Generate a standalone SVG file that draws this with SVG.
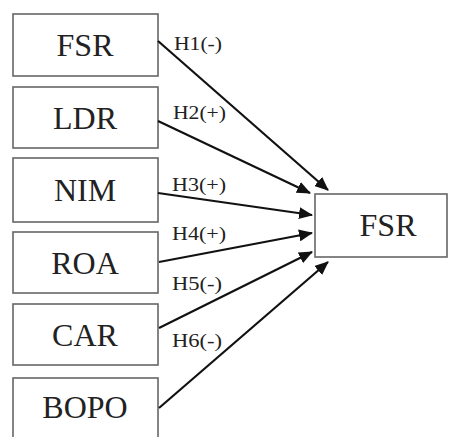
<svg xmlns="http://www.w3.org/2000/svg" width="450" height="437" viewBox="0 0 450 437">
<style>
.box{fill:#fff;stroke:#666;stroke-width:1.6}
.t{font-family:"Liberation Serif","Times New Roman",serif;font-size:32px;fill:#222;text-anchor:middle}
.lb{font-family:"Liberation Serif","Times New Roman",serif;font-size:18px;fill:#222}
.c{stroke:#111;stroke-width:2.2;fill:none;marker-end:url(#ah)}
</style>
<defs>
<marker id="ah" markerUnits="userSpaceOnUse" markerWidth="14" markerHeight="12" refX="13" refY="6" orient="auto">
<path d="M0,0 L14,6 L0,12 Z" fill="#111"/>
</marker>
</defs>
<rect width="450" height="437" fill="#fff"/>
<g id="n-fsr-in"><rect class="box" x="13" y="14" width="145" height="62"/><text class="t" x="85" y="56">FSR</text></g>
<g id="n-ldr"><rect class="box" x="13" y="87" width="145" height="61"/><text class="t" x="85" y="129">LDR</text></g>
<g id="n-nim"><rect class="box" x="13" y="158" width="145" height="64"/><text class="t" x="85" y="201">NIM</text></g>
<g id="n-roa"><rect class="box" x="13" y="232" width="145" height="61"/><text class="t" x="85" y="274">ROA</text></g>
<g id="n-car"><rect class="box" x="13" y="304" width="145" height="61"/><text class="t" x="85" y="346">CAR</text></g>
<g id="n-bopo"><rect class="box" x="13" y="378" width="145" height="70"/><text class="t" x="85" y="418">BOPO</text></g>
<g id="n-fsr-out"><rect class="box" x="315" y="194" width="132" height="63"/><text class="t" x="388" y="236">FSR</text></g>
<g id="connectors">
<line class="c" x1="158" y1="41" x2="328" y2="190"/>
<line class="c" x1="158" y1="121" x2="310" y2="193"/>
<line class="c" x1="158" y1="193" x2="312" y2="215"/>
<line class="c" x1="159" y1="262" x2="312" y2="233"/>
<line class="c" x1="159" y1="328" x2="312" y2="252"/>
<line class="c" x1="159" y1="408" x2="328" y2="262"/>
<text class="lb" x="174" y="50" textLength="48" lengthAdjust="spacingAndGlyphs">H1(-)</text>
<text class="lb" x="173" y="119" textLength="53" lengthAdjust="spacingAndGlyphs">H2(+)</text>
<text class="lb" x="172" y="191" textLength="54" lengthAdjust="spacingAndGlyphs">H3(+)</text>
<text class="lb" x="172" y="240" textLength="54" lengthAdjust="spacingAndGlyphs">H4(+)</text>
<text class="lb" x="172" y="290" textLength="50" lengthAdjust="spacingAndGlyphs">H5(-)</text>
<text class="lb" x="172" y="347" textLength="50" lengthAdjust="spacingAndGlyphs">H6(-)</text>
</g>
</svg>
